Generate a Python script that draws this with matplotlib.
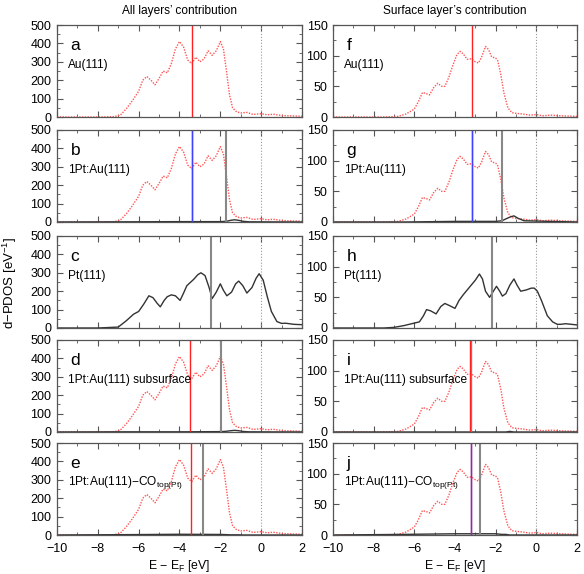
import matplotlib
matplotlib.use("Agg")
import matplotlib.pyplot as plt
from matplotlib.ticker import MultipleLocator

plt.rcParams['font.family'] = ['Liberation Sans', 'DejaVu Sans']
plt.rcParams['mathtext.fontset'] = 'custom'
plt.rcParams['mathtext.rm'] = 'Liberation Sans'
plt.rcParams['mathtext.it'] = 'Liberation Sans'

# Au d-PDOS, all layers (panels a, b, d, e)
au_all_x = [-10, -8, -7.2, -6.9, -6.6, -6.3, -6.0, -5.8, -5.6, -5.4, -5.2, -5.0, -4.8, -4.6,
            -4.4, -4.2, -4.0, -3.8, -3.6, -3.4, -3.2, -3.0, -2.8, -2.6, -2.4, -2.2, -2.0,
            -1.85, -1.7, -1.55, -1.4, -1.2, -1.0, -0.7, -0.4, 0, 0.3, 0.6, 1.0, 1.5, 2.0]
au_all_y = [0, 0, 2, 10, 45, 90, 140, 200, 220, 200, 175, 210, 250, 240,
            290, 370, 410, 380, 310, 290, 325, 300, 315, 360, 335, 360, 410,
            370, 250, 120, 50, 28, 22, 25, 14, 18, 12, 15, 8, 6, 4]

# Au d-PDOS, surface layer (panels f, g, i, j)
au_surf_x = [-10, -7.5, -6.8, -6.4, -6.0, -5.8, -5.6, -5.4, -5.25, -5.05, -4.85, -4.65, -4.5,
             -4.3, -4.1, -3.9, -3.75, -3.6, -3.4, -3.2, -3.0, -2.85, -2.7, -2.5, -2.35, -2.2,
             -2.0, -1.9, -1.75, -1.6, -1.4, -1.2, -1.0, -0.7, -0.3, 0, 0.3, 0.7, 1.2, 2.0]
au_surf_y = [0, 0, 1, 5, 13, 25, 40, 38, 36, 48, 55, 50, 50,
             65, 85, 102, 107, 103, 94, 95, 90, 88, 97, 115, 110, 98,
             96, 92, 70, 40, 15, 7, 6, 5, 3, 4, 2, 3, 2, 1]

# Pt(111) d-PDOS, all layers (panel c)
pt_all_x = [-10, -8, -7.0, -6.6, -6.25, -6.0, -5.75, -5.5, -5.3, -5.1, -4.94, -4.75, -4.6, -4.4,
            -4.2, -3.97, -3.8, -3.64, -3.3, -3.1, -2.95, -2.75, -2.55, -2.4, -2.2, -2.0, -1.85,
            -1.68, -1.45, -1.25, -1.1, -0.9, -0.7, -0.45, -0.25, -0.1, 0.1, 0.3, 0.5, 0.77,
            1.0, 1.2, 1.6, 2.0]
pt_all_y = [0, 0, 5, 40, 75, 90, 130, 175, 165, 135, 115, 150, 170, 180,
            175, 150, 190, 230, 265, 290, 300, 285, 220, 160, 195, 240, 205,
            175, 195, 240, 255, 230, 190, 220, 270, 295, 260, 170, 90, 35,
            25, 26, 20, 18]

# Pt(111) d-PDOS, surface layer (panel h)
pt_surf_x = [-10, -7.5, -7.0, -6.5, -6.0, -5.75, -5.55, -5.4, -5.2, -4.93, -4.7, -4.5, -4.3,
             -4.0, -3.8, -3.6, -3.4, -3.2, -3.0, -2.8, -2.65, -2.5, -2.3, -2.15, -1.96, -1.8,
             -1.67, -1.5, -1.3, -1.1, -0.95, -0.77, -0.5, -0.25, -0.1, 0.05, 0.25, 0.54, 0.8,
             1.03, 1.2, 1.44, 2.0]
pt_surf_y = [0, 0, 1, 4, 8, 10, 20, 30, 28, 23, 35, 40, 37,
             32, 45, 54, 62, 70, 78, 88, 80, 60, 50, 58, 68, 60,
             52, 56, 70, 80, 70, 60, 62, 65, 65, 60, 45, 20, 10,
             6, 6, 7, 5]

# single Pt atom contributions in the alloy panels
pt1_x = [-10, -6.5, -4.0, -2.0, -1.7, -1.5, -1.3, -1.1, -0.9, -0.6, 2.0]
pt1_all_y = [0, 1, 2, 2, 4, 9, 12, 9, 4, 1, 0]
pt1_sub_y = [0, 1, 1, 2, 4, 7, 9, 7, 3, 1, 0]
pt1_co_y = [0, 2, 4, 3, 2, 1, 1, 1, 0, 0, 0]
pt1_surf_y = [0, 0, 1, 1, 2, 5, 8, 10, 6, 2, 0]
pt1_surf_sub_y = [0, 0, 0, 0, 0, 0, 1, 0, 0, 0, 0]
pt1_surf_co_y = [0, 1, 2, 2, 1, 1, 0, 0, 0, 0, 0]

# d-band centres (red: Au, blue: Pt in Au, grey: Pt)
letters_left = ['a', 'b', 'c', 'd', 'e']
letters_right = ['f', 'g', 'h', 'i', 'j']
names = ['Au(111)', '1Pt:Au(111)', 'Pt(111)', '1Pt:Au(111) subsurface',
         '1Pt:Au(111)$-$CO$_{\\mathrm{top(Pt)}}$']
red_left = [-3.4, -3.4, None, -3.47, -3.45]
blue_left = [None, -3.4, None, None, None]
grey_left = [None, -1.7, -2.45, -1.98, -2.86]
red_right = [-3.17, -3.15, None, -3.24, -3.2]
blue_right = [None, -3.15, None, None, -3.2]
grey_right = [None, -1.68, -2.16, -3.2, -2.76]

W, H = 584, 574
fig = plt.figure(figsize=(W / 100, H / 100), dpi=100)

tops = [25, 130, 236, 340, 443]
ph = 92
red_c = '#ff2020'
au_c = '#ff5555'
blue_c = '#4040ff'
grey_c = '#888888'
pt_c = '#333333'


def style(ax, ymax, ystep, bottom):
    ax.set_xlim(-10, 2)
    ax.set_ylim(0, ymax)
    ax.xaxis.set_major_locator(MultipleLocator(2))
    ax.xaxis.set_minor_locator(MultipleLocator(1))
    ax.yaxis.set_major_locator(MultipleLocator(ystep))
    ax.yaxis.set_minor_locator(MultipleLocator(ystep / 2))
    ax.tick_params(which='both', direction='in', top=True, right=True,
                   labelsize=9, color='#555555')
    ax.tick_params(axis='y', pad=4)
    ax.tick_params(axis='x', pad=6)
    ax.tick_params(which='major', length=4)
    ax.tick_params(which='minor', length=2)
    for s in ax.spines.values():
        s.set_color('#555555')
        s.set_linewidth(0.9)
    if not bottom:
        ax.tick_params(labelbottom=False)
    else:
        ax.set_xlabel('E $-$ E$_\\mathrm{F}$ [eV]', fontsize=8.8, labelpad=2)
    ax.axvline(0, color='#999999', lw=0.8, ls=':')


for i in range(5):
    bottom = i == 4
    # left column: all layers
    axl = fig.add_axes([57 / W, 1 - (tops[i] + ph) / H, 245 / W, ph / H])
    style(axl, 500, 100, bottom)
    if i == 2:
        axl.plot(pt_all_x, pt_all_y, color=pt_c, lw=1.0)
    else:
        axl.plot(au_all_x, au_all_y, color=au_c, lw=1.0, ls=(0, (1, 1)))
    if i == 1:
        axl.plot(pt1_x, pt1_all_y, color=pt_c, lw=1.0)
    if i == 3:
        axl.plot(pt1_x, pt1_sub_y, color=pt_c, lw=1.0)
    if i == 4:
        axl.plot(pt1_x, pt1_co_y, color=pt_c, lw=1.0)
    if red_left[i] is not None:
        axl.axvline(red_left[i], color=red_c, lw=1.0)
    if blue_left[i] is not None:
        axl.axvline(blue_left[i], color=blue_c, lw=1.0)
    if grey_left[i] is not None:
        axl.axvline(grey_left[i], color=grey_c, lw=1.5)
    axl.text(0.055, 0.78, letters_left[i], transform=axl.transAxes, fontsize=12.5,
             va='center', ha='left')
    axl.text(0.045, 0.57, names[i], transform=axl.transAxes, fontsize=8.6,
             va='center', ha='left')

    # right column: surface layer
    axr = fig.add_axes([333 / W, 1 - (tops[i] + ph) / H, 244 / W, ph / H])
    style(axr, 150, 50, bottom)
    if i == 2:
        axr.plot(pt_surf_x, pt_surf_y, color=pt_c, lw=1.0)
    else:
        axr.plot(au_surf_x, au_surf_y, color=au_c, lw=1.0, ls=(0, (1, 1)))
    if i == 1:
        axr.plot(pt1_x, pt1_surf_y, color=pt_c, lw=1.0)
    if i == 3:
        axr.plot(pt1_x, pt1_surf_sub_y, color=pt_c, lw=1.0)
    if i == 4:
        axr.plot(pt1_x, pt1_surf_co_y, color=pt_c, lw=1.0)
    if grey_right[i] is not None:
        axr.axvline(grey_right[i], color=grey_c, lw=1.0 if i == 3 else 1.5)
    if red_right[i] is not None:
        axr.axvline(red_right[i], color=red_c, lw=1.0)
    if blue_right[i] is not None:
        axr.axvline(blue_right[i], color=blue_c, lw=1.0)
    axr.text(0.055, 0.78, letters_right[i], transform=axr.transAxes, fontsize=12.5,
             va='center', ha='left')
    axr.text(0.045, 0.57, names[i], transform=axr.transAxes, fontsize=8.6,
             va='center', ha='left')

fig.text(180 / W, 1 - 11 / H, 'All layers\u2019 contribution', ha='center', va='center',
         fontsize=8.6)
fig.text(455 / W, 1 - 11 / H, 'Surface layer\u2019s contribution', ha='center', va='center',
         fontsize=8.6)
fig.text(10 / W, 1 - 283 / H, 'd$-$PDOS [eV$^{-1}$]', rotation=90, ha='center',
         va='center', fontsize=9.5)

fig.savefig('out.png', dpi=100)
